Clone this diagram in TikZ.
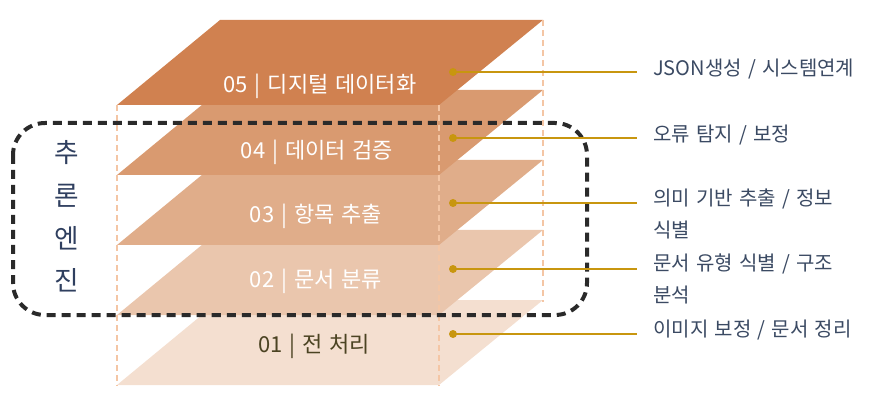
\documentclass[tikz,border=0pt]{standalone}
\usepackage{fontspec}
\setmainfont{Noto Sans CJK KR}
\newfontfamily\widelabel{Noto Sans CJK KR}[WordSpace=1.8]
\newfontfamily\widedesc{Noto Sans CJK KR}[WordSpace=1.4]
\definecolor{Lfive}{HTML}{D08150}
\definecolor{Lfour}{HTML}{D99A70}
\definecolor{Lthree}{HTML}{E0AD8A}
\definecolor{Ltwo}{HTML}{EAC6AD}
\definecolor{Lone}{HTML}{F4DFD0}
\definecolor{guidecol}{HTML}{F4C6A5}
\definecolor{boxcol}{HTML}{2A2A2A}
\definecolor{goldcol}{HTML}{C8960F}
\definecolor{slate}{HTML}{3B4A63}
\definecolor{enginecol}{HTML}{2F3F5F}
\definecolor{olive}{HTML}{4B4322}
\tikzset{
  x=0.75pt, y=-0.75pt,
  guide/.style={draw=guidecol, line width=1.5pt, dash pattern=on 4.5pt off 3pt},
  enginebox/.style={draw=boxcol, line width=3pt, dash pattern=on 6.75pt off 4.5pt, rounded corners=24pt},
  layerlabel/.style={text=white, font=\widelabel\fontsize{16.5pt}{19pt}\selectfont, inner sep=0pt},
  desc/.style={text=slate, anchor=west, font=\widedesc\fontsize{15pt}{18pt}\selectfont, inner sep=0pt},
  golddot/.style={circle, fill=goldcol, minimum size=6pt, inner sep=0pt},
  goldline/.style={draw=goldcol, line width=1.8pt},
  enginechar/.style={text=enginecol, font=\fontsize{20pt}{23pt}\selectfont, inner sep=0pt}
}
\begin{document}
\begin{tikzpicture}
\useasboundingbox (0,0) rectangle (875,406);
% layers, bottom to top
\foreach \t/\c in {300/Lone,230/Ltwo,160/Lthree,90/Lfour,20/Lfive}
  \fill[\c] (220,\t) -- (543,\t) -- (439,\t+85) -- (117,\t+85) -- cycle;
% guides
\draw[guide] (117,105) -- (117,386);
\draw[guide] (439,105) -- (439,386);
\draw[guide] (543,20) -- (543,302);
% engine box
\draw[enginebox] (13,123) rectangle (587,315);
% layer labels
\node[layerlabel] (l5) at (320,86) {05 | 디지털 데이터화};
\node[layerlabel] (l4) at (317,152) {04 | 데이터 검증};
\node[layerlabel] (l3) at (316,216) {03 | 항목 추출};
\node[layerlabel] (l2) at (316,281) {02 | 문서 분류};
\node[layerlabel, text=olive] (l1) at (314,346) {01 | 전 처리};
% engine text
\node[enginechar] (e1) at (67,153) {추};
\node[enginechar] (e2) at (67,196) {론};
\node[enginechar] (e3) at (67,238) {엔};
\node[enginechar] (e4) at (67,280) {진};
% connectors
\foreach \n/\y in {5/72,4/138,3/203,2/269,1/334}{
  \node[golddot] (d\n) at (453,\y) {};
  \coordinate (c\n) at (637,\y);
  \draw[goldline] (d\n.center) -- (c\n);
}
% descriptions
\node[desc] (t5) at (653,69) {JSON생성 / 시스템연계};
\node[desc] (t4) at (653,135) {오류 탐지 / 보정};
\node[desc] (t3a) at (653,199) {의미 기반 추출 / 정보};
\node[desc] (t3b) at (653,230) {식별};
\node[desc] (t2a) at (653,264) {문서 유형 식별 / 구조};
\node[desc] (t2b) at (653,295) {분석};
\node[desc] (t1) at (653,330) {이미지 보정 / 문서 정리};
\end{tikzpicture}
\end{document}
